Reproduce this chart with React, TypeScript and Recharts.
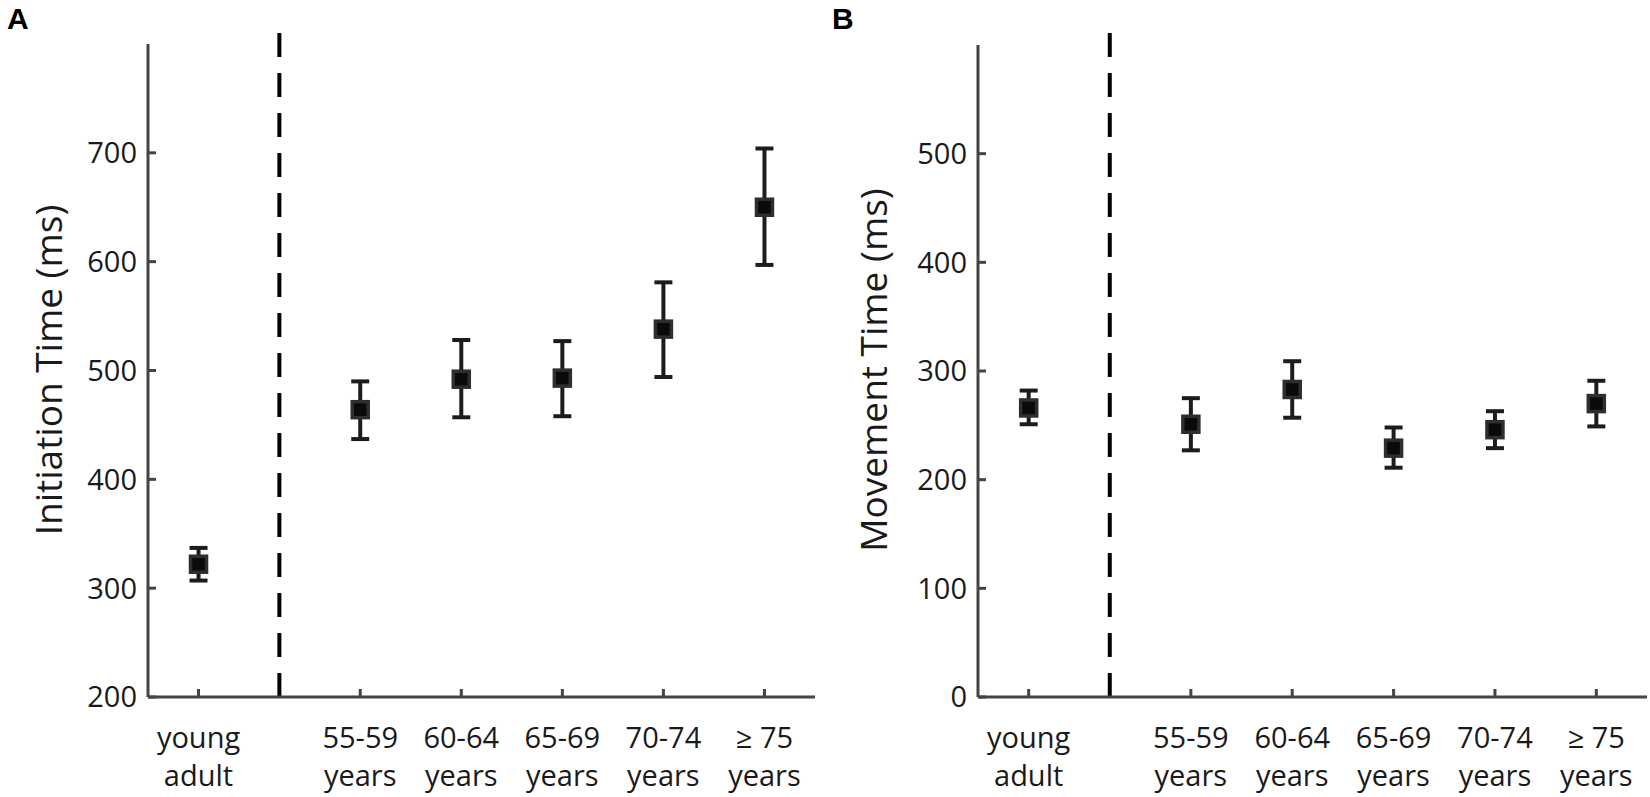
import React from "react";
import {
  ScatterChart,
  Scatter,
  XAxis,
  YAxis,
  ErrorBar,
  ReferenceLine,
} from "recharts";

// group positions on the numeric x axis (gap after the young adults)
const xPositions = [1, 2.6, 3.6, 4.6, 5.6, 6.6];
const labelTop = ["young", "55-59", "60-64", "65-69", "70-74", "≥ 75"];
const labelBottom = ["adult", "years", "years", "years", "years", "years"];
const dividerX = 1.8;

// A: initiation time (ms)
const initMean = [322, 464, 492, 493, 538, 650];
const initLow = [307, 437, 457, 458, 494, 597];
const initHigh = [337, 490, 528, 527, 581, 704];
const initTicks = [200, 300, 400, 500, 600, 700];

// B: movement time (ms)
const moveMean = [266, 251, 283, 229, 246, 270];
const moveLow = [251, 227, 257, 211, 229, 249];
const moveHigh = [282, 275, 309, 248, 263, 291];
const moveTicks = [0, 100, 200, 300, 400, 500];

const FONT = "'Open Sans', 'Noto Sans', sans-serif";
const AXIS = "#444";
const INK = "#1c1c1c";

function buildRows(mean: number[], low: number[], high: number[]) {
  return mean.map((m, i) => ({
    x: xPositions[i],
    y: m,
    err: [m - low[i], high[i] - m],
  }));
}

function Square(props: any) {
  const { cx, cy } = props;
  if (cx == null || cy == null) return null;
  return (
    <rect
      x={cx - 8}
      y={cy - 8}
      width={16}
      height={16}
      fill="#0a0a0a"
      stroke="#2e2e2e"
      strokeWidth={3.5}
    />
  );
}

function YTick(props: any) {
  const { x, y, payload } = props;
  return (
    <g>
      <line x1={x} y1={y} x2={x + 8} y2={y} stroke={AXIS} strokeWidth={3} />
      <text
        x={x - 11}
        y={y}
        dy="0.36em"
        textAnchor="end"
        fontSize={29}
        fontFamily={FONT}
        fill="#1a1a1a"
      >
        {payload.value}
      </text>
    </g>
  );
}

function XTick(props: any) {
  const { x, y, payload } = props;
  const i = xPositions.indexOf(payload.value);
  return (
    <g>
      <line x1={x} y1={y} x2={x} y2={y - 8} stroke={AXIS} strokeWidth={3} />
      <text textAnchor="middle" fontSize={29} fontFamily={FONT} fill="#1a1a1a">
        <tspan x={x} y={y + 51}>
          {labelTop[i]}
        </tspan>
        <tspan x={x} y={y + 89}>
          {labelBottom[i]}
        </tspan>
      </text>
    </g>
  );
}

function Panel({
  letter,
  title,
  rows,
  domain,
  ticks,
  dashTop,
  axisLeft,
  marginRight,
  top,
}: {
  letter: string;
  title: string;
  rows: { x: number; y: number; err: number[] }[];
  domain: [number, number];
  ticks: number[];
  dashTop: number;
  axisLeft: number;
  marginRight: number;
  top: number;
}) {
  return (
    <div style={{ position: "relative", width: 825, height: 797 }}>
      <ScatterChart
        width={825}
        height={797}
        margin={{ top, right: marginRight, bottom: 0, left: 0 }}
      >
        <XAxis
          type="number"
          dataKey="x"
          domain={[0.5, 7.1]}
          ticks={xPositions}
          interval={0}
          height={100}
          tickSize={0}
          tickMargin={0}
          tickLine={false}
          axisLine={{ stroke: AXIS, strokeWidth: 3 }}
          tick={<XTick />}
        />
        <YAxis
          type="number"
          dataKey="y"
          domain={domain}
          ticks={ticks}
          allowDataOverflow
          width={axisLeft}
          tickSize={0}
          tickMargin={0}
          tickLine={false}
          axisLine={{ stroke: AXIS, strokeWidth: 3 }}
          tick={<YTick />}
        />
        <ReferenceLine
          segment={[
            { x: dividerX, y: domain[0] },
            { x: dividerX, y: dashTop },
          ]}
          ifOverflow="visible"
          stroke="#000"
          strokeWidth={4}
          strokeDasharray="24 16"
        />
        <Scatter data={rows} shape={<Square />} isAnimationActive={false}>
          <ErrorBar
            dataKey="err"
            direction="y"
            width={9}
            strokeWidth={4}
            stroke={INK}
            isAnimationActive={false}
          />
        </Scatter>
      </ScatterChart>
      <div
        style={{
          position: "absolute",
          left: 7,
          top: 2,
          fontFamily: "'Liberation Sans', Arial, sans-serif",
          fontWeight: 700,
          fontSize: 30,
          color: "#000",
        }}
      >
        {letter}
      </div>
      <div
        style={{
          position: "absolute",
          left: 47,
          top: 370,
          transform: "translate(-50%, -50%) rotate(-90deg)",
          whiteSpace: "nowrap",
          fontFamily: FONT,
          fontSize: 37,
          color: "#1a1a1a",
        }}
      >
        {title}
      </div>
    </div>
  );
}

export default function App() {
  return (
    <div
      style={{
        position: "absolute",
        left: 0,
        top: 0,
        width: 1650,
        height: 797,
        display: "flex",
        background: "#fff",
      }}
    >
      <Panel
        letter="A"
        title="Initiation Time (ms)"
        rows={buildRows(initMean, initLow, initHigh)}
        domain={[200, 800]}
        ticks={initTicks}
        dashTop={812}
        axisLeft={148}
        marginRight={10}
        top={44}
      />
      <Panel
        letter="B"
        title="Movement Time (ms)"
        rows={buildRows(moveMean, moveLow, moveHigh)}
        domain={[0, 600]}
        ticks={moveTicks}
        dashTop={611}
        axisLeft={153}
        marginRight={3}
        top={45}
      />
    </div>
  );
}
